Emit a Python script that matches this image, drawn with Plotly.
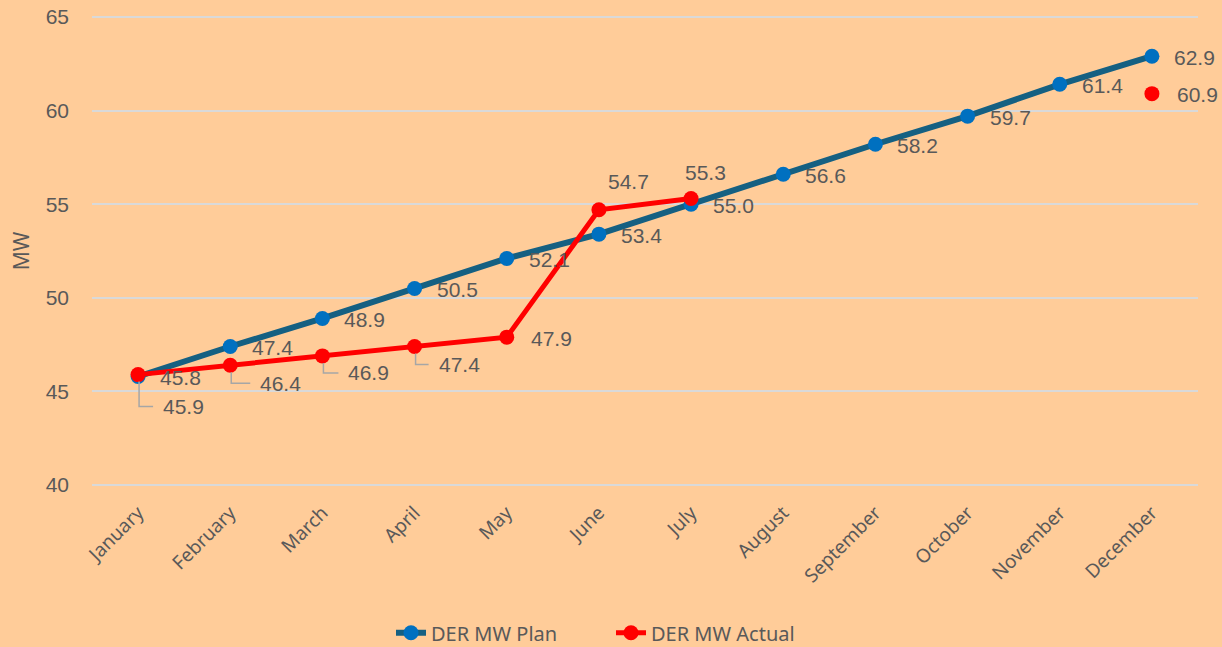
import plotly.graph_objects as go

months = ["January", "February", "March", "April", "May", "June",
          "July", "August", "September", "October", "November", "December"]
plan_mw = [45.8, 47.4, 48.9, 50.5, 52.1, 53.4, 55.0, 56.6, 58.2, 59.7, 61.4, 62.9]
actual_mw = [45.9, 46.4, 46.9, 47.4, 47.9, 54.7, 55.3, None, None, None, None, 60.9]
y_ticks = [40, 45, 50, 55, 60, 65]

# label placement (px): left offset, downward offset, leader line
actual_label_pos = [(23, 32, True), (28, 18, True), (24, 17, True), (22, 18, True),
                    (22, 1, False), (7, -28, False), (-8, -26, False),
                    None, None, None, None, (23, 1, False)]

BG = "#FFCC99"
TXT = "#595959"
NUM_FONT = "Liberation Sans"
UI_FONT = "Noto Sans"

fig = go.Figure()

fig.add_trace(go.Scatter(
    x=months, y=plan_mw, name="DER MW Plan",
    mode="lines+markers",
    line=dict(color="#156082", width=6),
    marker=dict(color="#0070C0", size=15),
))
fig.add_trace(go.Scatter(
    x=months, y=actual_mw, name="DER MW Actual",
    mode="lines+markers",
    line=dict(color="#FF0000", width=5),
    marker=dict(color="#FF0000", size=15),
    connectgaps=False,
))

annotations = []
shapes = []
for m, v in zip(months, plan_mw):
    annotations.append(dict(
        x=m, y=v, xref="x", yref="y", text=f"{v:.1f}", showarrow=False,
        xanchor="left", yanchor="middle", xshift=20, yshift=-1,
        font=dict(family=NUM_FONT, size=21, color=TXT),
    ))

for m, v, pos in zip(months, actual_mw, actual_label_pos):
    if v is None:
        continue
    dx, dy, leader = pos
    annotations.append(dict(
        x=m, y=v, xref="x", yref="y", text=f"{v:.1f}", showarrow=False,
        xanchor="left", yanchor="middle", xshift=dx, yshift=-dy,
        font=dict(family=NUM_FONT, size=21, color=TXT),
    ))
    if leader:
        shapes.append(dict(
            type="path", xref="x", yref="y",
            xsizemode="pixel", ysizemode="pixel", xanchor=m, yanchor=v,
            path=f"M 1 -7 L 1 {-dy} L {dx - 8} {-dy}",
            line=dict(color="#A6A6A6", width=1.5),
        ))

fig.update_layout(
    width=1222, height=647,
    paper_bgcolor=BG, plot_bgcolor=BG,
    margin=dict(l=92, r=24, t=15, b=160, autoexpand=False),
    font=dict(family=UI_FONT, color=TXT),
    showlegend=True,
    legend=dict(
        orientation="h", xref="container", x=0.5, xanchor="center",
        yref="container", y=0.022, yanchor="middle",
        entrywidth=175, entrywidthmode="pixels",
        font=dict(family=UI_FONT, size=20, color=TXT),
        bgcolor="rgba(0,0,0,0)",
    ),
    annotations=annotations,
    shapes=shapes,
    xaxis=dict(
        type="category", categoryorder="array", categoryarray=months,
        range=[-0.5, 11.5], automargin=False,
        showgrid=False, zeroline=False, showline=False,
        tickangle=-45, ticks="", ticklabelstandoff=10,
        tickfont=dict(family=UI_FONT, size=19, color=TXT),
    ),
    yaxis=dict(
        range=[39.9, 65.1], tickvals=y_ticks, automargin=False,
        showgrid=True, gridcolor="#D9D9D9", gridwidth=1.5,
        zeroline=False, showline=False, ticks="", ticklabelstandoff=22,
        tickfont=dict(family=NUM_FONT, size=21, color=TXT),
        title=dict(text="MW", standoff=10,
                   font=dict(family=UI_FONT, size=21, color=TXT)),
    ),
)

fig.write_html(
    "out.html",
    config={"displayModeBar": False},
    post_script="document.body.style.margin='0';document.body.style.overflow='hidden';"
                "document.body.style.background='#FFCC99';",
)
